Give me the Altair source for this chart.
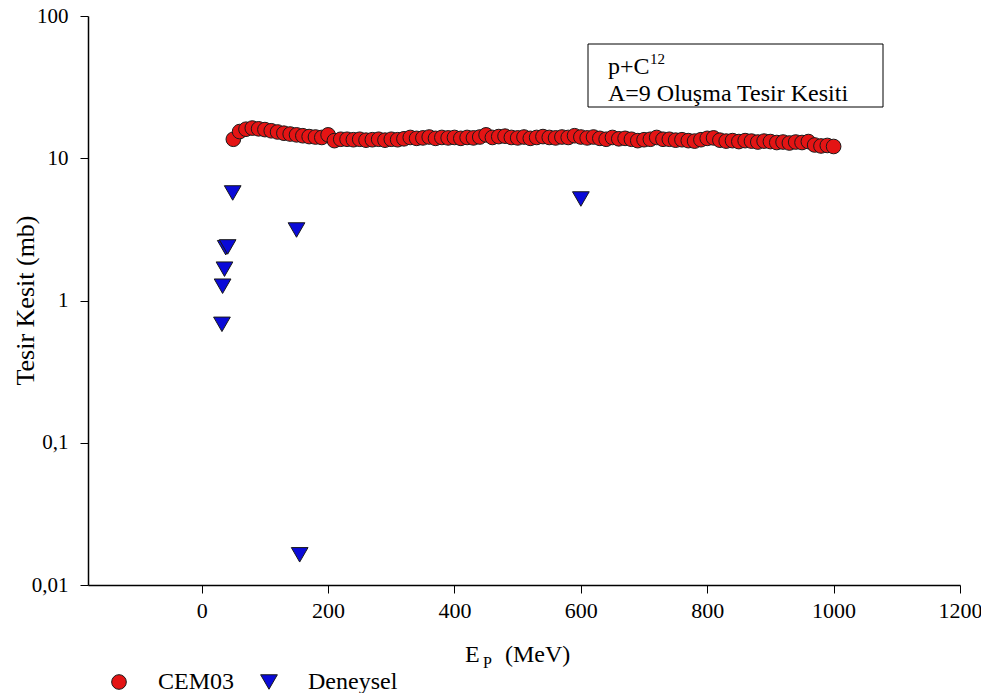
import altair as alt
import pandas as pd

# ---- data ----
cem_energy = list(range(50, 1001, 10))
cem_xs = [
    13.6, 15.4, 16.0, 16.3, 16.1, 15.9, 15.6, 15.3, 15.0, 14.8,
    14.6, 14.4, 14.2, 14.1, 14.0, 14.6, 13.3, 13.6, 13.6, 13.5,
    13.6, 13.4, 13.5, 13.6, 13.4, 13.6, 13.5, 13.7, 14.0, 13.8,
    13.9, 14.1, 13.8, 14.0, 13.9, 14.0, 13.8, 14.0, 13.9, 14.1,
    14.6, 14.0, 14.2, 14.3, 14.0, 13.9, 14.1, 13.8, 14.0, 14.2,
    14.0, 13.9, 14.1, 14.0, 14.4, 14.1, 13.9, 14.1, 13.8, 13.6,
    14.0, 13.7, 13.8, 13.6, 13.3, 13.5, 13.6, 14.0, 13.6, 13.6,
    13.4, 13.5, 13.3, 13.2, 13.5, 13.8, 13.9, 13.4, 13.2, 13.3,
    13.1, 13.3, 13.2, 13.0, 13.2, 13.1, 12.9, 13.0, 12.8, 13.0,
    12.9, 13.1, 12.4, 12.2, 12.3, 12.1,
]
exp_energy = [32, 33, 36, 38, 41, 49, 150, 155, 600]
exp_xs = [0.68, 1.26, 1.66, 2.35, 2.38, 5.7, 3.13, 0.0163, 5.17]

series_names = ["CEM03", "Deneysel"]
series_colors = ["#e41414", "#0a0ad8"]
series_shapes = ["circle", "triangle-down"]

x_ticks = [0, 200, 400, 600, 800, 1000, 1200]
y_ticks = [0.01, 0.1, 1, 10, 100]
y_tick_labels = ["0,01", "0,1", "1", "10", "100"]

x_title_main = "E"
x_title_sub = "P"
x_title_unit = "(MeV)"
y_title = "Tesir Kesit (mb)"
box_line1 = "p+C"
box_sup = "12"
box_line2 = "A=9 Oluşma Tesir Kesiti"

FONT = "Liberation Serif"

df = pd.DataFrame({
    "E": cem_energy + exp_energy,
    "xs": cem_xs + exp_xs,
    "series": [series_names[0]] * len(cem_energy) + [series_names[1]] * len(exp_energy),
})

label_expr = "''"
for v, lab in zip(reversed(y_ticks), reversed(y_tick_labels)):
    label_expr = f"(datum.value == {v}) ? '{lab}' : ({label_expr})"

legend = alt.Legend(
    title=None, orient="none", direction="horizontal",
    legendX=19, legendY=654,
    labelFont=FONT, labelFontSize=24, labelColor="black",
    labelOffset=27, columnPadding=22,
    symbolSize=220, symbolStrokeColor="#1a1a1a", symbolStrokeWidth=1,
)

points = alt.Chart(df).mark_point(
    filled=True, stroke="#1a1a1a", strokeWidth=1, opacity=1
).encode(
    x=alt.X("E:Q",
            scale=alt.Scale(domain=[-180, 1200], nice=False, zero=False),
            axis=alt.Axis(values=x_ticks, title=None, format="d",
                          labelFont=FONT, labelFontSize=22, labelColor="black",
                          labelPadding=7, labelFlush=False, tickSize=8, tickColor="black",
                          domainColor="black", domainWidth=1.5, grid=False)),
    y=alt.Y("xs:Q",
            scale=alt.Scale(type="log", domain=[0.01, 100], nice=False),
            axis=alt.Axis(values=y_ticks, labelExpr=label_expr,
                          title=y_title, titleFont=FONT, titleFontSize=26,
                          titleFontWeight="normal", titleColor="black",
                          titleX=-63, titleY=284, titleAngle=-90,
                          titleAlign="center", titleBaseline="middle",
                          labelFont=FONT, labelFontSize=21, labelColor="black",
                          labelPadding=12, labelFlush=False, tickSize=8, tickColor="black",
                          domainColor="black", domainWidth=1.5, grid=False)),
    color=alt.Color("series:N", scale=alt.Scale(domain=series_names, range=series_colors), legend=legend),
    shape=alt.Shape("series:N", scale=alt.Scale(domain=series_names, range=series_shapes), legend=legend),
    size=alt.Size("series:N", scale=alt.Scale(domain=series_names, range=[215, 280]), legend=None),
)

one = pd.DataFrame({"k": [0]})

box = alt.Chart(one).mark_rect(fillOpacity=0, stroke="black", strokeWidth=1).encode(
    x=alt.value(500), x2=alt.value(795), y=alt.value(28), y2=alt.value(91)
)

def txt(s, x, y, size):
    return alt.Chart(one).mark_text(
        align="left", baseline="alphabetic", font=FONT, fontSize=size, color="black"
    ).encode(x=alt.value(x), y=alt.value(y), text=alt.value(s))

layers = [
    points, box,
    txt(box_line1, 520, 58, 24),
    txt(box_sup, 562, 48, 15),
    txt(box_line2, 520, 85, 24),
    txt(x_title_main, 377, 646, 24),
    txt(x_title_sub, 395, 652, 16),
    txt(x_title_unit, 417, 646, 24),
]

chart = alt.layer(*layers).properties(
    width=872, height=569,
    autosize=alt.AutoSizeParams(type="none"),
    padding={"left": 80, "top": 8, "right": 21, "bottom": 108},
    background="white",
).configure_view(stroke=None)

chart.save("out.html", embed_options={"renderer": "svg", "actions": False})
